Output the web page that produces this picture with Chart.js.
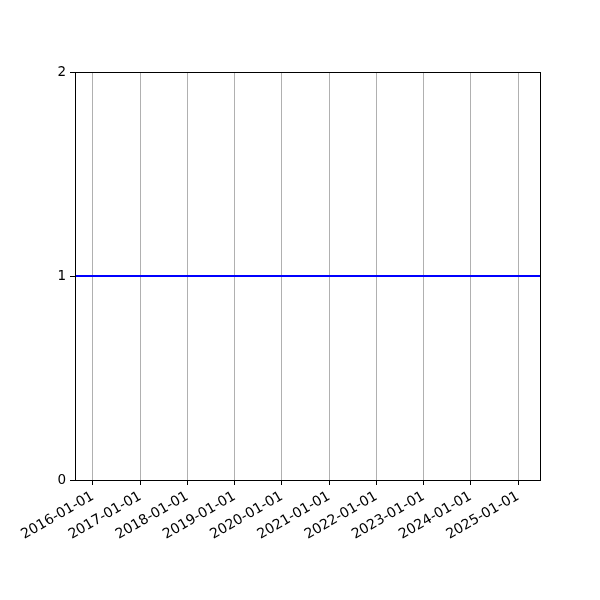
<!DOCTYPE html>
<html>
<head>
<meta charset="utf-8">
<script src="https://cdn.jsdelivr.net/npm/chart.js@4/dist/chart.umd.min.js"></script>
<style>
  html, body { margin: 0; padding: 0; background: #fff; }
</style>
</head>
<body>
<canvas id="chart" width="600" height="600"></canvas>
<script>
// Series: a flat line at 1 over the whole date range
const dates = ['2015-08-15', '2025-06-20'];
const values = [1, 1];
const tickYears = [2016, 2017, 2018, 2019, 2020, 2021, 2022, 2023, 2024, 2025];
const yTicks = [0, 1, 2];

const toMs = function(s) { return Date.parse(s + 'T00:00:00Z'); };
const pad = function(n) { return n < 10 ? '0' + n : '' + n; };
const fmtDate = function(ms) {
  let d = new Date(ms);
  return d.getUTCFullYear() + '-' + pad(d.getUTCMonth() + 1) + '-' + pad(d.getUTCDate());
};

const points = dates.map(function(d, i) { return { x: toMs(d), y: values[i] }; });

// draw the full axes box like matplotlib
const frame = {
  id: 'frame',
  afterDraw: function(chart) {
    const a = chart.chartArea;
    const ctx = chart.ctx;
    ctx.save();
    ctx.strokeStyle = '#000';
    ctx.lineWidth = 1;
    ctx.strokeRect(Math.round(a.left) + 0.5, Math.round(a.top) + 0.5,
      Math.round(a.right - a.left), Math.round(a.bottom - a.top));
    ctx.restore();
  }
};

const config = {
  type: 'line',
  data: {
    datasets: [{
      data: points,
      borderColor: '#0000ff',
      borderWidth: 2,
      pointRadius: 0,
      fill: false,
      tension: 0
    }]
  },
  options: {
    responsive: false,
    devicePixelRatio: 1,
    animation: false,
    layout: { padding: { top: 72, right: 60, left: 0, bottom: 0 } },
    plugins: {
      legend: { display: false },
      tooltip: { enabled: false }
    },
    scales: {
      x: {
        type: 'linear',
        min: toMs(dates[0]),
        max: toMs(dates[dates.length - 1]),
        afterBuildTicks: function(scale) {
          scale.ticks = tickYears.map(function(y) { return { value: Date.UTC(y, 0, 1) }; });
        },
        afterFit: function(scale) { scale.height = 120; },
        border: { display: false },
        grid: {
          color: '#b0b0b0',
          lineWidth: 1,
          tickColor: '#000',
          tickLength: 5
        },
        ticks: {
          autoSkip: false,
          maxRotation: 30,
          minRotation: 30,
          padding: 3,
          color: '#000',
          font: { family: 'DejaVu Sans', size: 14 },
          callback: function(v) { return fmtDate(v); }
        }
      },
      y: {
        min: 0,
        max: 2,
        afterBuildTicks: function(scale) {
          scale.ticks = yTicks.map(function(v) { return { value: v }; });
        },
        afterFit: function(scale) { scale.width = 75; },
        border: { display: false },
        grid: {
          drawOnChartArea: false,
          tickColor: '#000',
          tickLength: 5
        },
        ticks: {
          padding: 4,
          color: '#000',
          font: { family: 'DejaVu Sans', size: 13.5 },
          callback: function(v) { return String(v); }
        }
      }
    }
  },
  plugins: [frame]
};

new Chart(document.getElementById('chart'), config);
</script>
</body>
</html>
